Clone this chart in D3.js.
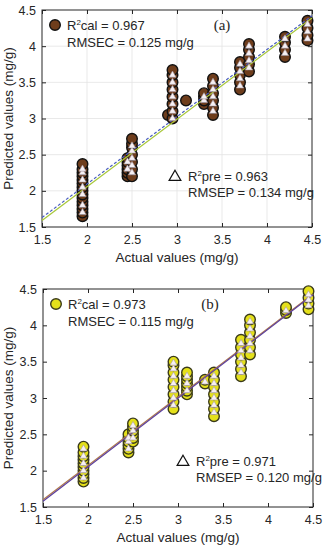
<!DOCTYPE html>
<html>
<head>
<meta charset="utf-8">
<script src="https://cdn.jsdelivr.net/npm/d3@7"></script>
<style>
  body { margin: 0; background: #fff; }
  text { font-family: "Liberation Sans", Arial, sans-serif; fill: #262626; }
</style>
</head>
<body>
<svg id="chart"></svg>
<script>
// tick labels on both axes
var ticks = [1.5, 2, 2.5, 3, 3.5, 4, 4.5];

// panel (a): calibration circles, [actual, predicted values]
var calA = [
  [1.95, [1.65, 1.7, 1.75, 1.8, 1.85, 1.9, 1.95, 2.0, 2.05, 2.1, 2.15, 2.2, 2.25, 2.3, 2.37]],
  [2.45, [2.2, 2.25, 2.3, 2.35, 2.4, 2.45]],
  [2.5, [2.2, 2.3, 2.4, 2.5, 2.6, 2.65, 2.72]],
  [2.9, [3.05]],
  [2.95, [3.0, 3.1, 3.2, 3.3, 3.4, 3.5, 3.6, 3.67]],
  [3.1, [3.25]],
  [3.3, [3.2, 3.25, 3.3, 3.35]],
  [3.4, [3.05, 3.15, 3.25, 3.35, 3.45, 3.55]],
  [3.7, [3.4, 3.5, 3.6, 3.7, 3.78]],
  [3.8, [3.65, 3.75, 3.85, 3.95, 4.03]],
  [4.2, [3.85, 3.95, 4.05, 4.13]],
  [4.45, [4.08, 4.15, 4.25, 4.35]]
];
// panel (a): prediction triangles
var preA = [
  [1.95, [1.7, 1.8, 1.95, 2.05, 2.15, 2.25, 2.3]],
  [2.45, [2.3, 2.4]],
  [2.5, [2.25, 2.35, 2.45, 2.55, 2.62]],
  [2.95, [3.0, 3.1, 3.2, 3.3, 3.4, 3.5, 3.6]],
  [3.3, [3.25, 3.3]],
  [3.4, [3.1, 3.2, 3.3, 3.4, 3.5]],
  [3.7, [3.45, 3.55, 3.65, 3.75]],
  [3.8, [3.7, 3.8, 3.9, 4.0]],
  [4.2, [3.9, 4.0, 4.1]],
  [4.45, [4.1, 4.2, 4.3]]
];
// panel (b)
var calB = [
  [1.95, [1.85, 1.9, 1.95, 2.0, 2.05, 2.1, 2.15, 2.2, 2.25, 2.33]],
  [2.45, [2.25, 2.3, 2.35, 2.4, 2.45, 2.5]],
  [2.5, [2.4, 2.45, 2.5, 2.55, 2.6, 2.65]],
  [2.95, [2.85, 2.95, 3.05, 3.15, 3.25, 3.35, 3.45, 3.5]],
  [3.1, [3.05, 3.1, 3.15, 3.2, 3.25, 3.3, 3.35]],
  [3.3, [3.2, 3.25]],
  [3.4, [2.75, 2.85, 2.95, 3.05, 3.15, 3.25, 3.35]],
  [3.7, [3.3, 3.4, 3.5, 3.6, 3.7, 3.8]],
  [3.8, [3.6, 3.7, 3.8, 3.9, 4.0, 4.08]],
  [4.2, [4.17, 4.21, 4.25]],
  [4.45, [4.22, 4.3, 4.38, 4.47]]
];
var preB = [
  [1.95, [1.9, 2.0, 2.1, 2.2, 2.3]],
  [2.45, [2.3, 2.4, 2.45]],
  [2.5, [2.45, 2.55, 2.62]],
  [2.95, [2.9, 3.0, 3.1, 3.2, 3.3, 3.4, 3.48]],
  [3.1, [3.1, 3.2, 3.3]],
  [3.3, [3.22]],
  [3.4, [2.8, 2.9, 3.0, 3.1, 3.2, 3.3]],
  [3.7, [3.35, 3.45, 3.55, 3.65, 3.75]],
  [3.8, [3.65, 3.75, 3.85, 3.95, 4.05]],
  [4.2, [4.2]],
  [4.45, [4.27, 4.35, 4.42]]
];

// fitted lines: [[x0, y0], [x1, y1]]
var fitA1 = [[1.5, 1.59], [4.5, 4.39]];
var fitA2 = [[1.5, 1.63], [4.5, 4.42]];
var fitB1 = [[1.5, 1.6], [4.5, 4.43]];
var fitB2 = [[1.5, 1.58], [4.5, 4.42]];

var config = { w: 326, h: 550, r: 5.3 };

var svg = d3.select("#chart")
  .attr("width", config.w)
  .attr("height", config.h);

function flatten(groups) {
  var out = [];
  groups.forEach(function(g) {
    g[1].forEach(function(v) { out.push({ x: g[0], y: v }); });
  });
  return out;
}

function drawPanel(p) {
  var x = d3.scaleLinear().domain([1.5, 4.5]).range([p.left, p.right]);
  var y = d3.scaleLinear().domain([1.5, 4.5]).range([p.bottom, p.top]);
  var g = svg.append("g");

  if (p.grid) {
    g.append("g").selectAll("line").data(ticks.slice(1, -1)).enter().append("line")
      .attr("x1", x).attr("x2", x).attr("y1", p.top).attr("y2", p.bottom)
      .attr("stroke", "#e3e3e3").attr("stroke-width", 0.8);
    g.append("g").selectAll("line").data(ticks.slice(1, -1)).enter().append("line")
      .attr("y1", y).attr("y2", y).attr("x1", p.left).attr("x2", p.right)
      .attr("stroke", "#e3e3e3").attr("stroke-width", 0.8);
  }

  // axes with inward ticks on all four sides
  var ax = [
    [d3.axisBottom(x), p.bottom, 0, true, "x"],
    [d3.axisTop(x), p.top, 0, false, "x"],
    [d3.axisLeft(y), 0, p.left, true, "y"],
    [d3.axisRight(y), 0, p.right, false, "y"]
  ];
  ax.forEach(function(a) {
    var axis = a[0].tickValues(ticks).tickSizeInner(-4).tickSizeOuter(0)
      .tickFormat(a[3] ? d3.format("") : "");
    var ga = g.append("g")
      .attr("transform", "translate(" + a[2] + "," + a[1] + ")")
      .call(axis);
    ga.select(".domain").remove();
    ga.selectAll("line").attr("stroke", "#262626");
    ga.selectAll("text").style("font-size", "12.5px").attr("fill", "#262626")
      .style("font-family", "'Liberation Sans', Arial, sans-serif");
    if (a[4] === "x") ga.selectAll("text").attr("dy", "0.9em").attr("y", 6);
    else ga.selectAll("text").attr("x", -6);
  });

  g.append("rect")
    .attr("x", p.left).attr("y", p.top)
    .attr("width", p.right - p.left).attr("height", p.bottom - p.top)
    .attr("fill", "none").attr("stroke", "#262626").attr("stroke-width", 1);

  var line = d3.line().x(function(d) { return x(d[0]); }).y(function(d) { return y(d[1]); });

  // calibration circles
  g.append("g").selectAll("circle").data(flatten(p.cal)).enter().append("circle")
    .attr("cx", function(d) { return x(d.x); })
    .attr("cy", function(d) { return y(d.y); })
    .attr("r", config.r)
    .attr("fill", p.fill)
    .attr("stroke", p.edge)
    .attr("stroke-width", 1.4);

  // fit lines
  g.append("path").attr("d", line(p.fit1)).attr("fill", "none")
    .attr("stroke", p.c1).attr("stroke-width", 1.2);
  g.append("path").attr("d", line(p.fit2)).attr("fill", "none")
    .attr("stroke", p.c2).attr("stroke-width", 1.2)
    .attr("stroke-dasharray", p.dash ? "3,2" : null);

  // prediction triangles
  var tri = d3.symbol().type(d3.symbolTriangle).size(22);
  g.append("g").selectAll("path").data(flatten(p.pre)).enter().append("path")
    .attr("d", tri)
    .attr("transform", function(d) { return "translate(" + x(d.x) + "," + y(d.y) + ")"; })
    .attr("fill", "#f6f0f4")
    .attr("stroke", "#a89aa2")
    .attr("stroke-width", 0.6);

  // legends
  g.append("circle").attr("cx", p.left + 13).attr("cy", p.top + 15).attr("r", 5.3)
    .attr("fill", p.fill).attr("stroke", p.edge).attr("stroke-width", 1.4);
  var t1 = g.append("text").attr("x", p.left + 25).attr("y", p.top + 20).style("font-size", "13px");
  t1.append("tspan").text("R");
  t1.append("tspan").attr("dy", -5).style("font-size", "8px").text("2");
  t1.append("tspan").attr("dy", 5).text("cal = " + p.r2cal);
  g.append("text").attr("x", p.left + 25).attr("y", p.top + 37).style("font-size", "13px")
    .text("RMSEC = " + p.rmsec + " mg/g");

  g.append("text").attr("x", p.labX).attr("y", p.top + 20).attr("text-anchor", "middle")
    .style("font-family", "'Liberation Serif', 'Times New Roman', serif").style("font-size", "15px")
    .text(p.label);

  g.append("path").attr("d", d3.symbol().type(d3.symbolTriangle).size(60))
    .attr("transform", "translate(" + p.triX + "," + (p.triY + 1) + ")")
    .attr("fill", "none").attr("stroke", "#111").attr("stroke-width", 1.2);
  var t2 = g.append("text").attr("x", p.triX + 13).attr("y", p.triY + 5).style("font-size", "13px");
  t2.append("tspan").text("R");
  t2.append("tspan").attr("dy", -5).style("font-size", "8px").text("2");
  t2.append("tspan").attr("dy", 5).text("pre = " + p.r2pre);
  g.append("text").attr("x", p.triX + 13).attr("y", p.triY + 21).style("font-size", "13px")
    .text("RMSEP = " + p.rmsep + " mg/g");

  // axis titles
  g.append("text").attr("x", (p.left + p.right) / 2).attr("y", p.bottom + 35)
    .attr("text-anchor", "middle").style("font-size", "13.5px").text("Actual values (mg/g)");
  g.append("text")
    .attr("transform", "translate(13," + (p.top + p.bottom) / 2 + ") rotate(-90)")
    .attr("text-anchor", "middle").style("font-size", "13.5px").text("Predicted values (mg/g)");
}

drawPanel({
  left: 42, right: 312, top: 10, bottom: 227, grid: true,
  cal: calA, pre: preA, fill: "#6e3d1c", edge: "#111",
  fit1: fitA1, fit2: fitA2, c1: "#a8c83a", c2: "#4b5fc0", dash: true,
  r2cal: "0.967", rmsec: "0.125", r2pre: "0.963", rmsep: "0.134",
  label: "(a)", labX: 222, triX: 175, triY: 176
});

drawPanel({
  left: 43, right: 313, top: 289, bottom: 507, grid: false,
  cal: calB, pre: preB, fill: "#e4e01a", edge: "#3a3a1a",
  fit1: fitB1, fit2: fitB2, c1: "#b07a4a", c2: "#5b3f9e", dash: false,
  r2cal: "0.973", rmsec: "0.115", r2pre: "0.971", rmsep: "0.120",
  label: "(b)", labX: 210, triX: 183, triY: 461
});
</script>
</body>
</html>
